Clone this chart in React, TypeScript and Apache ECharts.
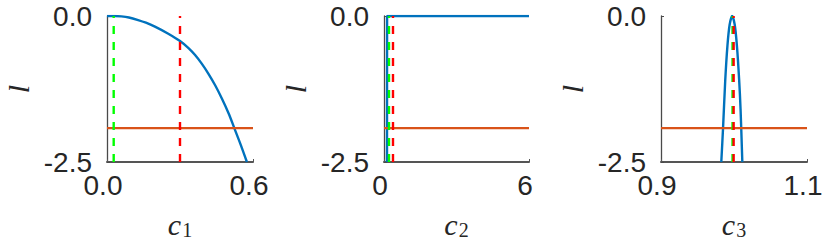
import React, { useEffect, useRef } from "react";
import * as echarts from "echarts";

// Panel 1: c1
const c1Curve: number[][] = [
  [0.0, 0.0], [0.03, 0.0], [0.059, -0.006], [0.09, -0.025], [0.128, -0.069], [0.16, -0.115],
  [0.197, -0.183], [0.25, -0.3], [0.3, -0.429], [0.335, -0.55], [0.362, -0.669],
  [0.39, -0.82], [0.417, -0.99], [0.445, -1.19], [0.472, -1.413], [0.5, -1.67],
  [0.524, -1.928], [0.55, -2.21], [0.575, -2.5],
];
const c1Green = 0.0275;
const c1Red = 0.3;

// Panel 2: c2
const c2Curve: number[][] = [
  [0.124, -2.5], [0.126, -1.0], [0.128, 0.0], [6.0, 0.0],
];
const c2Green = 0.207;
const c2Red = 0.372;

// Panel 3: c3
const c3Curve: number[][] = [
  [0.9826, -2.5], [0.985, -1.92], [0.988, -1.1], [0.991, -0.51], [0.994, -0.15],
  [0.9975, 0.0], [1.001, -0.15], [1.004, -0.51], [1.007, -1.08], [1.009, -1.6],
  [1.0114, -2.5],
];
const c3Green = 0.998;
const c3Red = 0.9995;

const threshold = -1.92;
const yMin = -2.5;
const yMax = 0;

const xRanges: number[][] = [[0, 0.6], [0, 6], [0.9, 1.1]];
const xDecimals = [1, 0, 1];
const xSubs = ["1", "2", "3"];
const curves = [c1Curve, c2Curve, c3Curve];
const smoothing = [0.3, 0, 0.3];
const greens = [c1Green, c2Green, c3Green];
const reds = [c1Red, c2Red, c3Red];

const gridLefts = [107, 384, 661];
const gridWidths = [146, 145, 146];

const BLUE = "#0072BD";
const ORANGE = "#D95319";
const GREEN = "#00FF00";
const RED = "#FF0000";
const AXIS = "#4a4a4a";
const XAXIS = "#555555";
const TEXT = "#262626";

export default function App() {
  const ref = useRef<HTMLDivElement>(null);
  useEffect(() => {
    document.body.style.margin = "0";
    if (!ref.current) return;
    const chart = echarts.init(ref.current, null, { renderer: "svg" });
    const grid = gridLefts.map((l, i) => ({
      left: l, top: 16, width: gridWidths[i], height: 146, outerBoundsMode: "none", containLabel: false,
    }));
    const xAxis = xRanges.map((r, i) => ({
      type: "value",
      gridIndex: i,
      min: r[0],
      max: r[1],
      splitLine: { show: false },
      axisLine: { show: true, onZero: false, lineStyle: { color: XAXIS, width: 2 } },
      axisTick: { show: true, inside: true, length: 3, customValues: r, lineStyle: { color: XAXIS } },
      axisLabel: {
        customValues: r,
        formatter: (v: number) => v.toFixed(xDecimals[i]),
        fontFamily: "Liberation Sans",
        fontSize: 28,
        color: TEXT,
        margin: 9,
        padding: [0, 8, 0, 0],
      },
      name: `{c|c}{s|${xSubs[i]}}`,
      nameLocation: "middle",
      nameGap: 46,
      nameTextStyle: {
        rich: {
          c: { fontFamily: "Liberation Serif", fontStyle: "italic", fontSize: 30, color: TEXT },
          s: { fontFamily: "Liberation Serif", fontSize: 20, color: TEXT, padding: [12, 0, 0, 1] },
        },
      },
    }));
    const yAxis = xRanges.map((_, i) => ({
      type: "value",
      gridIndex: i,
      min: yMin,
      max: yMax,
      splitLine: { show: false },
      axisLine: { show: true, onZero: false, lineStyle: { color: AXIS, width: 1.3 } },
      axisTick: { show: true, inside: true, length: 3, customValues: [yMin, yMax], lineStyle: { color: AXIS } },
      axisLabel: {
        customValues: [yMin, yMax],
        formatter: (v: number) => v.toFixed(1),
        fontFamily: "Liberation Sans",
        fontSize: 28,
        color: TEXT,
        margin: 15,
      },
      name: "l",
      nameLocation: "middle",
      nameRotate: 90,
      nameGap: 74,
      nameTextStyle: { fontFamily: "Liberation Serif", fontStyle: "italic", fontSize: 30, color: TEXT },
    }));
    const series: any[] = [];
    xRanges.forEach((r, i) => {
      series.push({
        type: "line", xAxisIndex: i, yAxisIndex: i, data: curves[i], showSymbol: false,
        smooth: smoothing[i], lineStyle: { color: BLUE, width: 2.4 },
      });
      series.push({
        type: "line", xAxisIndex: i, yAxisIndex: i, data: [[r[0], threshold], [r[1], threshold]],
        showSymbol: false, lineStyle: { color: ORANGE, width: 2.4 },
      });
      series.push({
        type: "line", xAxisIndex: i, yAxisIndex: i, data: [[greens[i], yMin], [greens[i], yMax]],
        showSymbol: false, lineStyle: { color: GREEN, width: 2.4, type: [8, 8] },
      });
      series.push({
        type: "line", xAxisIndex: i, yAxisIndex: i, data: [[reds[i], yMin], [reds[i], yMax]],
        showSymbol: false, lineStyle: { color: RED, width: 2.4, type: [8, 8] },
      });
    });
    chart.setOption({
      animation: false,
      grid,
      xAxis,
      yAxis,
      series,
    });
    return () => chart.dispose();
  }, []);
  return <div ref={ref} style={{ width: 830, height: 245 }} />;
}
